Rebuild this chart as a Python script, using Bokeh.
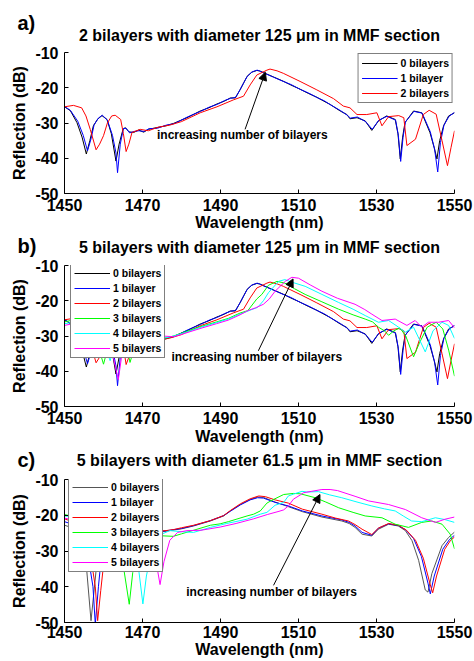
from bokeh.plotting import figure
from bokeh.models import Legend, LegendItem, Arrow, NormalHead, Label, FixedTicker, Range1d
from bokeh.layouts import column
from bokeh.embed import file_html
from bokeh.resources import INLINE

FONT = "Liberation Sans"

x_ticks = [1450, 1470, 1490, 1510, 1530, 1550]
y_ticks = [-50, -40, -30, -20, -10]
y_tick_text = {-50: "-50", -40: "-40", -30: "-30", -20: "-20", -10: "-10"}

# ---- panels a) and b): 0, 1, 2 bilayers (125 um) ----
ab_0 = [(1450,-25.4),(1451.5,-26.5),(1453.2,-29.9),(1454.5,-34.0),(1455.6,-38.8),(1456.5,-35.0),(1457.4,-30.8),
        (1458.5,-28.9),(1459.6,-27.9),(1460.9,-29.0),(1462.0,-33.0),(1463.2,-40.8),(1464.0,-36.0),(1465.0,-31.8),
        (1465.6,-31.3),(1466.5,-32.5),(1467.7,-32.7),(1469.0,-32.0),(1470.3,-32.6),(1471.5,-31.8),(1473.7,-31.3),
        (1476.0,-30.8),(1478.0,-30.1),(1481.4,-28.5),(1484.8,-26.6),(1487.0,-25.7),(1489.1,-24.6),(1491.0,-23.8),
        (1492.5,-22.9),(1493.8,-22.9),(1495.0,-20.6),(1496.0,-18.5),(1496.8,-16.8),(1498.0,-15.6),(1499.3,-15.1),
        (1500.0,-15.2),(1501.0,-15.7),(1503.5,-16.9),(1506.2,-18.2),(1508.0,-19.2),(1510.4,-20.4),(1512.5,-21.6),
        (1514.7,-22.7),(1516.5,-23.8),(1518.2,-24.8),(1520.7,-26.6),(1522.4,-27.6),(1523.2,-28.8),(1525.0,-28.5),
        (1527.1,-29.4),(1528.8,-32.1),(1530.5,-29.4),(1532.6,-28.0),(1534.8,-29.0),(1535.5,-33.0),(1536.1,-40.2),
        (1536.7,-34.0),(1537.3,-29.9),(1539.5,-26.6),(1541.6,-27.1),(1543.7,-32.7),(1544.8,-37.0),(1545.5,-40.2),
        (1546.2,-35.0),(1547.2,-30.8),(1548.5,-28.0),(1550,-27.1)]
ab_1 = [(1450,-25.3),(1451.5,-26.4),(1453.4,-29.5),(1454.8,-33.5),(1455.9,-37.9),(1456.8,-34.5),(1457.6,-30.5),
        (1458.7,-28.6),(1459.7,-27.8),(1461.0,-29.2),(1462.3,-33.5),(1463.2,-38.5),(1463.6,-44.1),(1464.3,-36.0),
        (1465.1,-31.6),(1465.8,-31.5),(1466.7,-32.8),(1467.8,-32.4),(1469.1,-32.2),(1470.4,-32.4),(1471.7,-31.6),
        (1473.8,-31.5),(1476.1,-30.6),(1478.1,-30.2),(1481.5,-28.3),(1484.9,-26.7),(1487.1,-25.5),(1489.2,-24.7),
        (1491.1,-23.6),(1492.6,-23.0),(1493.9,-22.7),(1495.1,-20.4),(1496.1,-18.3),(1496.9,-16.7),(1498.1,-15.5),
        (1499.4,-15.0),(1500.1,-15.3),(1501.1,-15.8),(1503.6,-17.0),(1506.3,-18.3),(1508.1,-19.1),(1510.5,-20.5),
        (1512.6,-21.5),(1514.8,-22.8),(1516.6,-23.7),(1518.3,-24.9),(1520.8,-26.5),(1522.5,-27.8),(1523.3,-28.6),
        (1525.1,-28.3),(1527.2,-29.6),(1528.9,-31.8),(1530.6,-29.2),(1532.7,-28.1),(1534.9,-29.2),(1535.6,-33.5),
        (1536.2,-40.9),(1536.8,-34.2),(1537.4,-29.7),(1539.6,-26.7),(1541.7,-27.2),(1543.8,-32.5),(1544.9,-37.5),
        (1545.7,-43.9),(1546.4,-35.5),(1547.3,-30.6),(1548.6,-28.1),(1550,-27.0)]
ab_2 = [(1450,-25.4),(1452.3,-25.0),(1454.4,-25.7),(1455.5,-28.0),(1456.6,-31.8),(1458.1,-37.6),(1459.0,-36.0),
        (1460.0,-33.6),(1461.0,-30.0),(1462.1,-28.0),(1463.0,-27.8),(1464.4,-29.0),(1465.1,-33.0),(1465.8,-38.1),
        (1466.5,-36.0),(1467.3,-32.7),(1469.4,-31.8),(1471.5,-32.2),(1474.0,-31.2),(1477.0,-30.6),(1480.0,-29.6),
        (1484.8,-27.1),(1489.1,-25.4),(1493.4,-23.4),(1495.9,-22.4),(1497.6,-19.2),(1499.3,-16.4),(1501.9,-15.0),
        (1502.7,-14.7),(1504.5,-15.2),(1506.1,-15.9),(1510.4,-18.2),(1514.7,-20.6),(1519.0,-23.1),(1521.5,-25.2),
        (1523.2,-25.7),(1525.0,-27.6),(1527.5,-27.6),(1530.1,-27.1),(1531.4,-30.8),(1533.1,-28.2),(1535.7,-27.9),
        (1537.0,-28.5),(1537.8,-36.4),(1540.0,-34.6),(1542.0,-27.6),(1543.5,-26.4),(1545.3,-27.5),(1546.8,-35.0),
        (1548.2,-42.1),(1549.1,-37.0),(1550,-32.2)]

# ---- panel b): 3, 4, 5 bilayers (125 um) ----
b_3 = [(1450,-26.0),(1452,-25.5),(1454,-25.3),(1456,-26.5),(1458,-30.5),(1460,-38.0),(1461.2,-33.0),(1462.5,-29.0),
       (1464,-28.5),(1465.5,-30.5),(1466.8,-37.5),(1468,-33.0),(1469.5,-31.0),(1472,-30.5),(1475,-30.8),(1478,-30.0),
       (1481,-28.8),(1485,-27.3),(1489,-26.0),(1492,-25.0),(1495,-23.5),(1497,-22.8),(1499.3,-19.5),(1500.6,-18.2),
       (1502.3,-15.6),(1504.5,-14.5),(1506.5,-15.0),(1509,-16.6),(1511.7,-18.2),(1516,-20.3),(1520.3,-22.4),(1524,-24.0),
       (1527.1,-25.2),(1529,-26.0),(1530.5,-27.5),(1532,-28.5),(1533.1,-29.8),(1534.5,-28.5),(1536,-27.7),(1537.5,-30.0),
       (1539.5,-35.9),(1541,-32.0),(1543,-27.5),(1545.3,-26.1),(1547,-28.0),(1548.5,-34.0),(1550,-41.4)]
b_4 = [(1450,-26.5),(1453,-26.0),(1456,-26.5),(1459,-29.0),(1461.7,-37.0),(1463,-32.0),(1465,-28.5),(1467,-30.0),
       (1468.8,-36.0),(1470.5,-31.5),(1473,-30.2),(1476,-30.5),(1478,-30.0),(1481,-29.0),(1485,-27.5),(1489,-26.2),
       (1492,-25.2),(1495,-23.8),(1498,-22.5),(1499.5,-21.9),(1501,-20.0),(1502.3,-17.7),(1504.9,-14.5),(1506.5,-14.0),
       (1508.5,-14.8),(1511.7,-15.9),(1516,-18.2),(1520.3,-20.5),(1524,-22.4),(1527.1,-24.2),(1530.5,-26.1),
       (1533.1,-25.6),(1535,-27.0),(1537.4,-28.9),(1539.5,-27.5),(1542.5,-34.5),(1544.5,-28.5),(1546.8,-26.1),
       (1548.5,-27.0),(1550,-30.7)]
b_5 = [(1450,-27.0),(1453,-26.3),(1456,-26.0),(1459,-27.0),(1461.5,-31.0),(1463.8,-42.4),(1465,-33.0),(1467,-29.0),
       (1469,-29.5),(1471,-33.5),(1472.5,-30.5),(1475,-30.0),(1478,-30.2),(1481,-29.2),(1485,-27.8),(1489,-26.5),
       (1492,-25.5),(1495,-24.0),(1497,-22.8),(1499,-22.0),(1501,-21.0),(1502.5,-19.5),(1504,-17.3),(1506.6,-14.5),
       (1508.3,-13.35),(1510,-13.6),(1513,-15.5),(1516,-17.3),(1520,-19.3),(1524.5,-21.0),(1527,-22.5),(1528.8,-23.8),
       (1531.4,-25.6),(1534.8,-25.2),(1537.8,-27.0),(1539.9,-25.6),(1541.6,-27.5),(1543.3,-26.1),(1545.9,-26.1),
       (1548.5,-25.6),(1550,-27.7)]

# ---- panel c): 0..5 bilayers (61.5 um) ----
c_0 = [(1450,-22.8),(1452,-23.5),(1454,-27.0),(1455.7,-35.4),(1456.8,-49.5),(1457.5,-42.0),(1458.5,-31.0),(1460,-26.5),
       (1462,-24.5),(1465,-23.5),(1468,-23.8),(1471,-24.5),(1474,-24.8),(1477,-24.3),(1480,-23.8),(1483.1,-23.0),
       (1487.4,-21.6),(1490.8,-20.2),(1492.5,-18.8),(1495.1,-17.0),(1497.6,-15.6),(1499.5,-14.9),(1501,-15.0),
       (1504,-16.3),(1507.4,-17.6),(1511,-19.0),(1516,-20.5),(1521.1,-21.6),(1523,-22.3),(1524.5,-23.4),(1526.3,-25.3),
       (1528.8,-25.8),(1530.5,-23.9),(1533.1,-22.5),(1535.6,-23.0),(1537.4,-24.3),(1539.1,-27.1),(1540.8,-32.6),
       (1542.5,-40.9),(1543.2,-41.5),(1544.2,-36.3),(1546.8,-28.5),(1548.5,-26.2),(1550,-24.7)]
c_1 = [(1450,-21.8),(1452,-22.5),(1454,-25.0),(1456,-31.0),(1457.3,-40.0),(1457.9,-50.5),(1458.7,-40.0),(1459.5,-31.0),
       (1461,-26.5),(1463,-24.5),(1466,-23.8),(1469,-24.2),(1472,-24.6),(1475,-24.5),(1477,-24.2),(1480,-23.7),
       (1483.1,-22.9),(1487.4,-21.5),(1490.8,-20.1),(1492.5,-18.9),(1495.1,-17.1),(1497.6,-15.7),(1499.5,-15.1),
       (1501,-15.2),(1504,-16.4),(1507.4,-17.4),(1511,-18.8),(1516,-20.2),(1521.1,-21.3),(1523,-22.0),(1524.5,-23.0),
       (1526.3,-24.8),(1528.8,-25.6),(1530.5,-23.6),(1533.1,-22.4),(1535.6,-22.9),(1537.4,-24.0),(1539.5,-26.5),
       (1541.5,-31.5),(1543.2,-39.0),(1543.8,-42.0),(1544.8,-37.0),(1547,-29.5),(1548.7,-26.8),(1550,-25.6)]
c_2 = [(1450,-21.0),(1452,-21.8),(1454.5,-24.0),(1456.5,-30.0),(1457.9,-40.0),(1458.5,-49.5),(1459.3,-41.0),
       (1460.3,-31.0),(1462,-26.0),(1464,-24.3),(1467,-23.6),(1470,-24.0),(1473,-24.4),(1476,-24.3),(1478,-24.0),
       (1480,-23.5),(1483.1,-22.8),(1487.4,-21.5),(1490.8,-20.1),(1492.5,-18.7),(1495.1,-16.8),(1497.6,-15.4),
       (1499.8,-14.6),(1501.5,-14.8),(1504,-15.7),(1507.4,-16.6),(1511,-18.3),(1516,-19.7),(1519.5,-20.8),
       (1522.8,-21.6),(1524.5,-22.6),(1526.3,-23.9),(1528.8,-25.4),(1530.5,-23.6),(1533.1,-22.3),(1535.6,-22.8),
       (1537.7,-24.2),(1540,-27.0),(1542,-32.0),(1543.8,-39.5),(1544.4,-41.7),(1545.4,-37.0),(1547.5,-29.5),
       (1549,-27.0),(1550,-26.1)]
c_3 = [(1450,-19.8),(1452,-20.3),(1455,-21.0),(1458,-22.0),(1461,-24.0),(1463.5,-28.0),(1465.2,-35.0),(1466.6,-44.9),
       (1467.5,-36.0),(1469,-29.0),(1471,-26.5),(1474,-25.7),(1477.9,-25.9),(1480,-25.2),(1483.1,-24.2),(1487.4,-22.8),
       (1489.9,-22.4),(1492,-21.8),(1496.8,-20.2),(1498.5,-19.7),(1500.2,-18.8),(1501.9,-16.6),(1503.2,-15.8),
       (1506.2,-14.2),(1508.7,-13.9),(1510.5,-14.0),(1514.3,-15.1),(1517,-16.3),(1520.3,-17.9),(1524,-19.2),
       (1527.1,-20.2),(1531.4,-20.7),(1534.8,-22.5),(1538.2,-23.4),(1541.6,-22.0),(1544.2,-21.6),(1546.8,-22.5),
       (1548.9,-25.3),(1550,-29.4)]
c_4 = [(1450,-20.2),(1453,-20.5),(1456,-21.5),(1459,-22.5),(1462,-24.0),(1465,-25.5),(1467.5,-28.0),(1469,-35.0),
       (1470.1,-44.8),(1471,-37.0),(1472.5,-29.0),(1474.5,-25.5),(1477,-24.3),(1480,-24.6),(1483.1,-24.8),
       (1487.4,-23.4),(1491.6,-22.3),(1496.8,-21.1),(1500.2,-19.7),(1501.9,-19.2),(1504,-17.2),(1506.2,-16.4),
       (1507.4,-14.6),(1508.7,-14.1),(1510.9,-13.3),(1512.1,-13.5),(1515.1,-13.4),(1518,-14.3),(1521.1,-15.1),
       (1525,-16.3),(1528.8,-17.4),(1532,-18.2),(1534.8,-18.8),(1537,-20.3),(1539,-21.6),(1541.6,-21.8),
       (1545.1,-20.7),(1547.5,-21.2),(1550,-22.0)]
c_5 = [(1450,-20.8),(1453,-21.5),(1456,-22.5),(1459,-23.3),(1462,-24.2),(1465,-25.0),(1468,-25.5),(1471,-26.5),
       (1473,-30.0),(1474.5,-39.4),(1475.5,-33.0),(1477,-27.0),(1479,-24.8),(1481.4,-24.3),(1485,-24.2),
       (1489.9,-23.3),(1494,-22.3),(1498.5,-21.0),(1502,-19.8),(1505,-18.9),(1506.2,-18.5),(1507.4,-17.4),
       (1508.7,-15.5),(1510.5,-14.3),(1511.3,-13.7),(1513.4,-13.3),(1516,-12.8),(1518.1,-12.8),(1520,-13.1),
       (1524.5,-14.7),(1528,-16.0),(1533.1,-17.0),(1537.4,-18.4),(1541.6,-20.7),(1545.1,-22.0),(1547.6,-21.1),
       (1550,-20.5)]

labels_a = ["0 bilayers", "1 bilayer", "2 bilayers"]
labels_bc = ["0 bilayers", "1 bilayer", "2 bilayers", "3 bilayers", "4 bilayers", "5 bilayers"]
colors_ab = ["#000000", "#0000ff", "#ff0000", "#00ff00", "#00ffff", "#ff00ff"]
colors_c = ["#555555", "#0000ff", "#ff0000", "#00ff00", "#00ffff", "#ff00ff"]

titles = ["2 bilayers with diameter 125 \u03bcm in MMF section",
          "5 bilayers with diameter 125 \u03bcm in MMF section",
          "5 bilayers with diameter 61.5 \u03bcm in MMF section"]
tags = ["a)", "b)", "c)"]
note = "increasing number of bilayers"
arrows = [((1496.3, -31.8), (1501.5, -15.6)),
          ((1499.7, -34.2), (1508.6, -13.8)),
          ((1503.6, -39.6), (1515.5, -14.2))]
note_pos = [(1495.6, -33.5), (1499.3, -35.9), (1503.1, -41.4)]

W = 474


def split(pts):
    return [q[0] for q in pts], [q[1] for q in pts]


def strip(height, idx, tag_y, title_y):
    """A text-only band holding the panel letter and the panel title."""
    s = figure(width=W, height=height, x_range=Range1d(0, 1), y_range=Range1d(0, 1),
               output_backend="svg", toolbar_location=None, title=None,
               x_axis_type=None, y_axis_type=None, frame_align=False,
               min_border_left=0, min_border_right=0, min_border_top=0, min_border_bottom=0)
    s.outline_line_color = None
    s.grid.visible = False
    s.add_layout(Label(x=17, y=tag_y, x_units="screen", y_units="screen", text=tags[idx],
                       text_font=FONT, text_font_size="20px", text_font_style="bold",
                       text_baseline="middle", text_align="left", text_color="black"))
    s.add_layout(Label(x=259, y=title_y, x_units="screen", y_units="screen", text=titles[idx],
                       text_font=FONT, text_font_size="16px", text_font_style="bold",
                       text_baseline="middle", text_align="center", text_color="black"))
    return s


def panel(height, top, bottom, tick_standoff, label_standoff):
    p = figure(width=W, height=height, x_range=Range1d(1450, 1550), y_range=Range1d(-50, -10),
               output_backend="svg", toolbar_location=None, title=None,
               min_border_left=64, min_border_right=20, min_border_top=top, min_border_bottom=bottom)
    p.outline_line_color = None
    p.grid.visible = False
    p.xaxis.ticker = FixedTicker(ticks=x_ticks)
    p.yaxis.ticker = FixedTicker(ticks=y_ticks)
    p.yaxis.major_label_overrides = y_tick_text
    p.xaxis.axis_label = "Wavelength (nm)"
    p.yaxis.axis_label = "Reflection (dB)"
    for ax in (p.xaxis, p.yaxis):
        ax.axis_line_color = "black"
        ax.major_tick_line_color = "black"
        ax.major_tick_in = 4
        ax.major_tick_out = 0
        ax.minor_tick_line_color = None
        ax.major_label_text_font = FONT
        ax.major_label_text_font_size = "16px"
        ax.major_label_text_font_style = "bold"
        ax.major_label_text_color = "black"
        ax.axis_label_text_font = FONT
        ax.axis_label_text_font_size = "16px"
        ax.axis_label_text_font_style = "bold"
        ax.axis_label_text_color = "black"
    p.xaxis.major_label_standoff = tick_standoff
    p.xaxis.axis_label_standoff = label_standoff
    p.yaxis.major_label_standoff = 6
    p.yaxis.axis_label_standoff = 4
    return p, height - top - bottom


def add_series(p, series, labels, colors):
    items = []
    for pts, lab, col in zip(series, labels, colors):
        xs, ys = split(pts)
        r = p.line(xs, ys, line_color=col, line_width=1)
        items.append(LegendItem(label=lab, renderers=[r]))
    return items


def style_legend(leg):
    leg.label_text_font = FONT
    leg.label_text_font_size = "10.5px"
    leg.label_text_font_style = "bold"
    leg.label_text_color = "black"
    leg.glyph_width = 36
    leg.glyph_height = 12
    leg.label_height = 12
    leg.label_standoff = 3
    leg.spacing = 3
    leg.padding = 3
    leg.border_line_color = "black"
    leg.border_line_width = 1
    leg.background_fill_color = "white"
    leg.background_fill_alpha = 1.0


def add_note(p, idx):
    (x0, y0), (x1, y1) = arrows[idx]
    p.add_layout(Arrow(end=NormalHead(size=8, fill_color="black", line_color="black"),
                       x_start=x0, y_start=y0, x_end=x1, y_end=y1, line_color="black", line_width=1))
    nx, ny = note_pos[idx]
    p.add_layout(Label(x=nx, y=ny, text=note, text_align="center", text_baseline="middle",
                       text_font=FONT, text_font_size="12px", text_font_style="bold", text_color="black"))


# band + panel a
sa = strip(43, 0, 20.5, 8.5)
pa, ha = panel(191, 9, 41, 5, 0)
items = add_series(pa, [ab_0, ab_1, ab_2], labels_a, colors_ab[:3])
add_note(pa, 0)
lega = Legend(items=items, location="top_right", margin=1)
style_legend(lega)
pa.add_layout(lega)

# band + panel b
sb = strip(23, 1, 11.5, 10)
pb, hb = panel(191, 8, 42, 5, 1)
add_note(pb, 1)
items = add_series(pb, [ab_0, ab_1, ab_2, b_3, b_4, b_5], labels_bc, colors_ab)
legb = Legend(items=items, location=(6, hb - 93), margin=0)
style_legend(legb)
pb.add_layout(legb)

# band + panel c
sc = strip(23, 2, 11.5, 11)
pc, hc = panel(190, 8, 39, 3, 0)
add_note(pc, 2)
items = add_series(pc, [c_0, c_1, c_2, c_3, c_4, c_5], labels_bc, colors_c)
legc = Legend(items=items, location=(4, hc - 93), margin=0)
style_legend(legc)
pc.add_layout(legc)

layout = column(sa, pa, sb, pb, sc, pc, spacing=0)
open("out.html", "w").write(file_html(layout, INLINE))
